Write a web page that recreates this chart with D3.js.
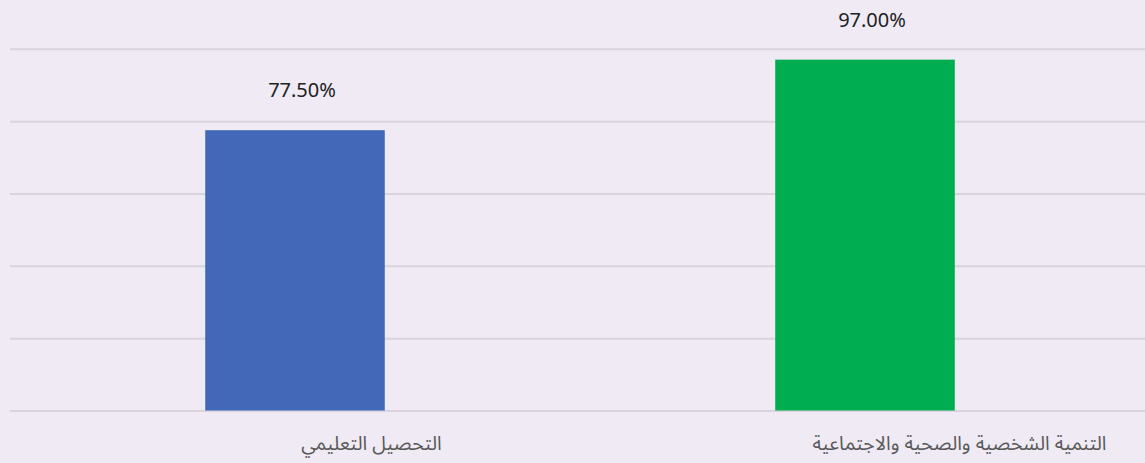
<!DOCTYPE html>
<html><head><meta charset="utf-8">
<script src="https://cdn.jsdelivr.net/npm/d3@7"></script>
<style>
html,body{margin:0;padding:0;background:#efeaf4;}
svg{display:block;}
</style></head>
<body>
<svg id="chart" width="1145" height="463"></svg>
<script>
const categories = ["التحصيل التعليمي", "التنمية الشخصية والصحية والاجتماعية"];
const values = [77.5, 97.0];
const valueLabels = ["77.50%", "97.00%"];
const colors = ["#4368b8", "#00ad50"];
const yTicks = [0, 20, 40, 60, 80, 100];

const svg = d3.select("#chart");
svg.append("rect").attr("width",1145).attr("height",463).attr("fill","#efeaf4");

const x = d3.scaleBand().domain(categories).range([10, 1150]).padding(0);
const y = d3.scaleLinear().domain([0, 100]).range([410.5, 48.8]);
const barW = x.bandwidth() * 0.315;

// gridlines
const yAxis = d3.axisLeft(y).tickValues(yTicks).tickSize(-(1150 - 10)).tickFormat("");
const gy = svg.append("g").attr("transform","translate(10,0)").call(yAxis);
gy.select(".domain").remove();
gy.selectAll(".tick line").attr("stroke","#d8d3dc").attr("stroke-width",2);

// bars
svg.selectAll("rect.bar").data(categories).join("rect")
  .attr("class","bar")
  .attr("x", d => x(d) + x.bandwidth()/2 - barW/2)
  .attr("width", barW)
  .attr("y", (d,i) => y(values[i]))
  .attr("height", (d,i) => y(0) - y(values[i]))
  .attr("fill", (d,i) => colors[i]);

// value labels
svg.selectAll("text.val").data(categories).join("text")
  .attr("class","val")
  .attr("x", d => x(d) + x.bandwidth()/2 + 7)
  .attr("y", (d,i) => y(values[i]) - 33)
  .attr("text-anchor","middle")
  .attr("font-family","'Noto Sans', 'DejaVu Sans', sans-serif")
  .attr("font-size", 20)
  .attr("fill","#222")
  .text((d,i) => valueLabels[i]);

// category labels
const xAxis = d3.axisBottom(x).tickSize(0).tickPadding(0);
const gx = svg.append("g").attr("transform", `translate(0, ${y(0)})`).call(xAxis);
gx.select(".domain").remove();
gx.selectAll(".tick text")
  .attr("y", 39)
  .attr("dy", 0)
  .attr("font-family","'Noto Sans Arabic', 'Noto Sans', 'DejaVu Sans', sans-serif")
  .attr("font-size", 19.5)
  .attr("fill","#595959")
  .attr("direction","rtl")
  .attr("text-anchor","middle")
  .attr("x", function() { return 60 + 0.117 * this.getComputedTextLength(); });
</script>
</body></html>
